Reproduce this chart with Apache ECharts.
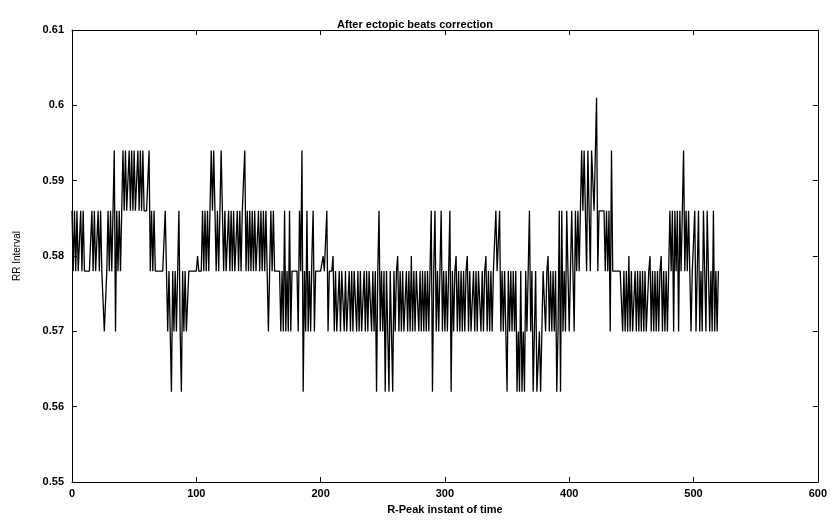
<!DOCTYPE html>
<html>
<head>
<meta charset="utf-8">
<title>RR interval after ectopic beats correction</title>
<script src="https://cdn.jsdelivr.net/npm/echarts@6/dist/echarts.min.js"></script>
<style>
  html, body { margin: 0; padding: 0; background: #fff; }
  #chart { width: 830px; height: 520px; }
</style>
</head>
<body>
<div id="chart"></div>
<script>
// RR intervals (s) of successive R-peaks, after ectopic beat correction
const rrInterval = [
  0.586,0.578,0.586,0.578,0.586,0.578,0.578,0.586,0.578,0.586,0.578,0.578,0.578,0.578,0.578,0.578,0.586,0.578,0.586,0.578,
  0.578,0.586,0.578,0.586,0.578,0.578,0.570,0.570,0.578,0.586,0.578,0.586,0.578,0.586,0.594,0.570,0.586,0.578,0.586,0.578,
  0.586,0.594,0.586,0.594,0.586,0.586,0.594,0.586,0.594,0.586,0.594,0.586,0.586,0.594,0.586,0.594,0.586,0.594,0.586,0.586,
  0.586,0.586,0.594,0.578,0.586,0.578,0.586,0.578,0.578,0.578,0.578,0.578,0.578,0.578,0.578,0.586,0.578,0.570,0.578,0.570,
  0.562,0.578,0.570,0.578,0.570,0.578,0.586,0.570,0.562,0.578,0.570,0.578,0.570,0.570,0.578,0.578,0.578,0.578,0.578,0.578,
  0.578,0.580,0.578,0.578,0.578,0.586,0.578,0.586,0.578,0.586,0.578,0.586,0.594,0.586,0.594,0.586,0.578,0.586,0.578,0.586,
  0.594,0.586,0.578,0.586,0.578,0.578,0.586,0.578,0.586,0.578,0.586,0.578,0.578,0.586,0.578,0.586,0.578,0.586,0.586,0.594,
  0.578,0.586,0.578,0.586,0.578,0.586,0.578,0.586,0.578,0.578,0.586,0.578,0.586,0.578,0.586,0.578,0.586,0.578,0.570,0.578,
  0.586,0.578,0.586,0.578,0.578,0.578,0.578,0.578,0.570,0.578,0.570,0.586,0.570,0.578,0.570,0.586,0.570,0.578,0.578,0.578,
  0.578,0.578,0.570,0.586,0.578,0.594,0.562,0.578,0.570,0.586,0.570,0.578,0.570,0.580,0.586,0.570,0.578,0.578,0.578,0.578,
  0.578,0.578,0.580,0.578,0.578,0.586,0.570,0.578,0.578,0.578,0.580,0.570,0.578,0.570,0.570,0.578,0.570,0.578,0.578,0.570,
  0.578,0.570,0.570,0.578,0.570,0.578,0.570,0.578,0.578,0.570,0.578,0.570,0.578,0.570,0.570,0.578,0.570,0.578,0.570,0.578,
  0.578,0.570,0.578,0.570,0.578,0.562,0.578,0.586,0.570,0.578,0.570,0.578,0.562,0.578,0.570,0.562,0.578,0.570,0.562,0.578,
  0.570,0.578,0.580,0.570,0.578,0.570,0.578,0.570,0.570,0.578,0.570,0.578,0.570,0.580,0.570,0.578,0.570,0.578,0.578,0.570,
  0.578,0.570,0.578,0.570,0.578,0.570,0.578,0.570,0.578,0.586,0.562,0.578,0.586,0.570,0.578,0.570,0.578,0.586,0.570,0.578,
  0.570,0.578,0.570,0.578,0.586,0.562,0.578,0.570,0.578,0.580,0.570,0.578,0.570,0.578,0.570,0.578,0.570,0.578,0.580,0.570,
  0.578,0.570,0.570,0.578,0.570,0.578,0.570,0.578,0.578,0.570,0.578,0.570,0.578,0.580,0.570,0.578,0.570,0.578,0.570,0.578,
  0.578,0.586,0.578,0.578,0.586,0.570,0.578,0.570,0.578,0.570,0.562,0.578,0.570,0.578,0.570,0.578,0.570,0.578,0.562,0.570,
  0.562,0.578,0.562,0.570,0.562,0.578,0.570,0.578,0.586,0.570,0.578,0.562,0.570,0.578,0.562,0.562,0.570,0.562,0.570,0.578,
  0.578,0.570,0.578,0.580,0.570,0.578,0.570,0.578,0.570,0.578,0.562,0.570,0.586,0.562,0.586,0.570,0.578,0.570,0.586,0.578,
  0.570,0.578,0.586,0.578,0.570,0.586,0.578,0.586,0.578,0.586,0.594,0.586,0.594,0.586,0.578,0.594,0.586,0.578,0.594,0.594,
  0.586,0.586,0.601,0.578,0.586,0.586,0.586,0.586,0.586,0.578,0.586,0.578,0.586,0.570,0.594,0.578,0.578,0.578,0.578,0.578,
  0.578,0.578,0.578,0.570,0.578,0.570,0.578,0.570,0.580,0.570,0.578,0.570,0.570,0.578,0.570,0.578,0.570,0.578,0.570,0.578,
  0.570,0.578,0.570,0.570,0.578,0.580,0.570,0.578,0.570,0.578,0.570,0.578,0.570,0.578,0.580,0.570,0.578,0.570,0.578,0.570,
  0.578,0.586,0.578,0.586,0.570,0.586,0.578,0.586,0.570,0.586,0.578,0.586,0.594,0.578,0.586,0.578,0.586,0.578,0.570,0.578,
  0.578,0.586,0.570,0.578,0.586,0.570,0.578,0.570,0.586,0.578,0.570,0.586,0.578,0.570,0.578,0.570,0.586,0.570,0.578,0.570,
  0.578
];

// axis ranges and tick steps
const xRange = [0, 600];
const xStep = 100;
const yRange = [0.55, 0.61];
const yStep = 0.01;

const titleText = 'After ectopic beats correction';
const xName = 'R-Peak instant of time';
const yName = 'RR Interval';

// beat number runs from 0 along the x axis
const points = rrInterval.map((v, i) => [i, v]);

const font = 'Liberation Sans, Arial, sans-serif';
const ink = '#000';

function frameAxis(extra) {
  return Object.assign({
    type: 'value',
    splitLine: { show: false },
    axisLine: { show: true, onZero: false, lineStyle: { color: ink, width: 1 } },
    axisTick: { show: true, inside: true, length: 5, lineStyle: { color: ink, width: 1 } },
    axisLabel: { show: false }
  }, extra);
}

const labelStyle = { color: ink, fontSize: 11, fontWeight: 'bold', fontFamily: font };

const chart = echarts.init(document.getElementById('chart'), null, { renderer: 'canvas' });
chart.setOption({
  animation: false,
  backgroundColor: '#fff',
  title: {
    text: titleText,
    left: 'center',
    top: 14,
    textStyle: { color: ink, fontSize: 11, fontWeight: 'bold', fontFamily: font }
  },
  grid: { left: 72, right: 10, top: 30, bottom: 37, containLabel: false },
  xAxis: [
    frameAxis({
      position: 'bottom', min: xRange[0], max: xRange[1], interval: xStep,
      axisLabel: Object.assign({ show: true, margin: 6 }, labelStyle),
      name: xName, nameLocation: 'middle', nameGap: 19,
      nameTextStyle: { color: ink, fontSize: 11, fontWeight: 'bold', fontFamily: font }
    }),
    frameAxis({ position: 'top', min: xRange[0], max: xRange[1], interval: xStep })
  ],
  yAxis: [
    frameAxis({
      position: 'left', min: yRange[0], max: yRange[1], interval: yStep,
      axisLabel: Object.assign({
        show: true, margin: 8,
        formatter: v => String(+v.toFixed(2))
      }, labelStyle),
      name: yName, nameLocation: 'middle', nameGap: 50,
      nameTextStyle: { color: ink, fontSize: 10, fontWeight: 'normal', fontFamily: font }
    }),
    frameAxis({ position: 'right', min: yRange[0], max: yRange[1], interval: yStep })
  ],
  series: [{
    type: 'line',
    data: points,
    xAxisIndex: 0,
    yAxisIndex: 0,
    showSymbol: false,
    symbol: 'none',
    lineStyle: { color: ink, width: 1.3 },
    silent: true
  }]
});
</script>
</body>
</html>
